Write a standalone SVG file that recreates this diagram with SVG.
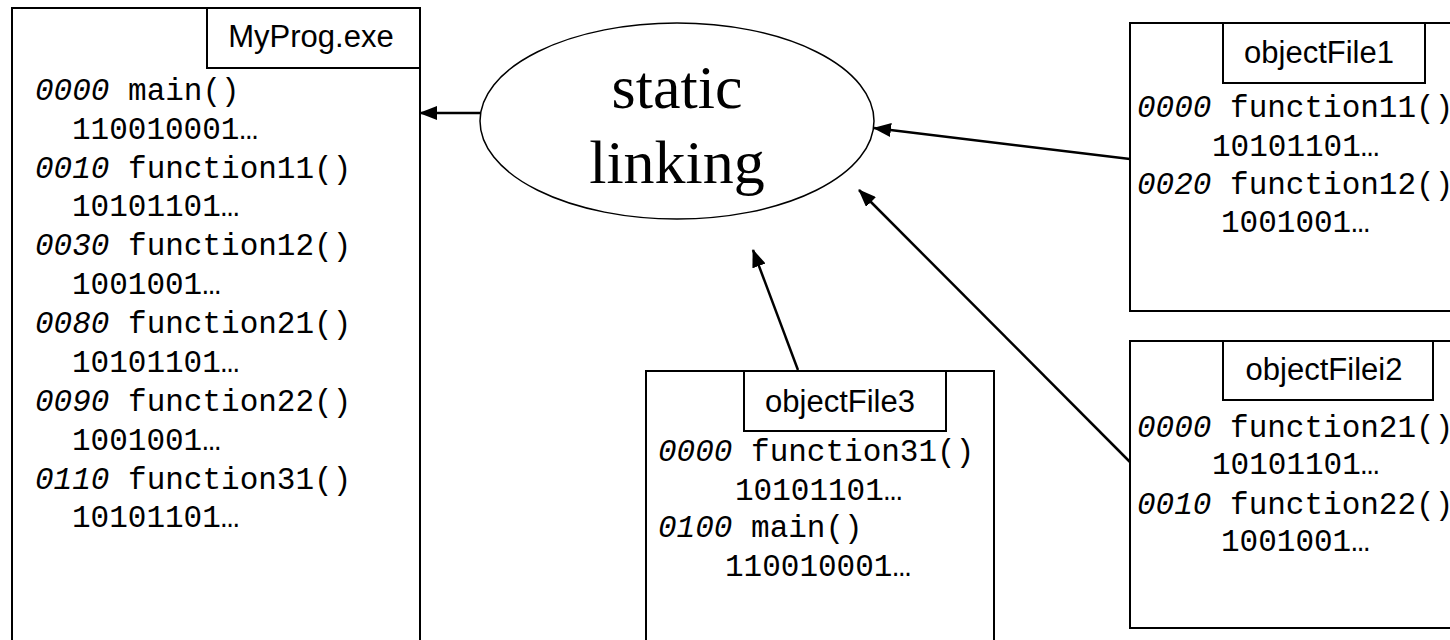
<svg xmlns="http://www.w3.org/2000/svg" width="1450" height="640" viewBox="0 0 1450 640">
  <style>
    .box { fill: #ffffff; stroke: #000000; stroke-width: 2; }
    .label { font-family: "Liberation Sans", Arial, sans-serif; font-size: 31px; fill: #000000; text-anchor: middle; }
    .code { font-family: "Liberation Mono", "Courier New", monospace; font-size: 31px; fill: #000000; white-space: pre; }
    .addr { font-style: italic; }
    .edge { fill: none; stroke: #000000; stroke-width: 2.5; }
    .oval { fill: #ffffff; stroke: #000000; stroke-width: 1.5; }
    .oval-text { font-family: "Liberation Serif", "Times New Roman", serif; font-size: 62px; fill: #000000; text-anchor: middle; }
  </style>
  <defs>
    <marker id="head" markerUnits="userSpaceOnUse" markerWidth="18" markerHeight="14" refX="17" refY="7" orient="auto">
      <path d="M0,0 L18,7 L0,14 Z" fill="#000000"/>
    </marker>
  </defs>

  <rect width="1450" height="640" fill="#ffffff"/>

  <!-- linked executable -->
  <g id="myprog">
    <rect class="box" x="12" y="8" width="408" height="650"/>
    <rect class="box" x="207" y="8" width="213" height="60"/>
    <text class="label" x="311" y="47">MyProg.exe</text>
    <text class="code" x="35" y="100"><tspan class="addr">0000</tspan> main()</text>
    <text class="code" x="72" y="139">110010001…</text>
    <text class="code" x="35" y="178"><tspan class="addr">0010</tspan> function11()</text>
    <text class="code" x="72" y="216">10101101…</text>
    <text class="code" x="35" y="255"><tspan class="addr">0030</tspan> function12()</text>
    <text class="code" x="72" y="294">1001001…</text>
    <text class="code" x="35" y="333"><tspan class="addr">0080</tspan> function21()</text>
    <text class="code" x="72" y="372">10101101…</text>
    <text class="code" x="35" y="411"><tspan class="addr">0090</tspan> function22()</text>
    <text class="code" x="72" y="450">1001001…</text>
    <text class="code" x="35" y="489"><tspan class="addr">0110</tspan> function31()</text>
    <text class="code" x="72" y="527">10101101…</text>
  </g>

  <!-- linker -->
  <g id="linker">
    <ellipse class="oval" cx="677" cy="121" rx="197" ry="98"/>
    <text class="oval-text" x="677" y="108">static</text>
    <text class="oval-text" x="677" y="183">linking</text>
  </g>

  <!-- object file 1 -->
  <g id="objectFile1">
    <rect class="box" x="1130" y="23" width="340" height="288"/>
    <rect class="box" x="1223" y="23" width="202" height="60"/>
    <text class="label" x="1319" y="63">objectFile1</text>
    <text class="code" x="1137" y="117"><tspan class="addr">0000</tspan> function11()</text>
    <text class="code" x="1212" y="156">10101101…</text>
    <text class="code" x="1137" y="194"><tspan class="addr">0020</tspan> function12()</text>
    <text class="code" x="1221" y="232">1001001…</text>
  </g>

  <!-- object file 2 -->
  <g id="objectFilei2">
    <rect class="box" x="1130" y="341" width="340" height="287"/>
    <rect class="box" x="1223" y="341" width="210" height="59"/>
    <text class="label" x="1324" y="380">objectFilei2</text>
    <text class="code" x="1137" y="437"><tspan class="addr">0000</tspan> function21()</text>
    <text class="code" x="1212" y="474">10101101…</text>
    <text class="code" x="1137" y="514"><tspan class="addr">0010</tspan> function22()</text>
    <text class="code" x="1221" y="551">1001001…</text>
  </g>

  <!-- object file 3 -->
  <g id="objectFile3">
    <rect class="box" x="646" y="371" width="348" height="290"/>
    <rect class="box" x="744" y="371" width="202" height="60"/>
    <text class="label" x="840" y="412">objectFile3</text>
    <text class="code" x="658" y="461"><tspan class="addr">0000</tspan> function31()</text>
    <text class="code" x="735" y="500">10101101…</text>
    <text class="code" x="658" y="537"><tspan class="addr">0100</tspan> main()</text>
    <text class="code" x="725" y="576">110010001…</text>
  </g>

  <!-- connectors -->
  <g id="connectors">
    <line class="edge" x1="480" y1="113" x2="420" y2="113" marker-end="url(#head)"/>
    <line class="edge" x1="1130" y1="159" x2="874" y2="128" marker-end="url(#head)"/>
    <line class="edge" x1="1130" y1="462" x2="859" y2="190" marker-end="url(#head)"/>
    <line class="edge" x1="798" y1="370" x2="753" y2="250" marker-end="url(#head)"/>
  </g>
</svg>
